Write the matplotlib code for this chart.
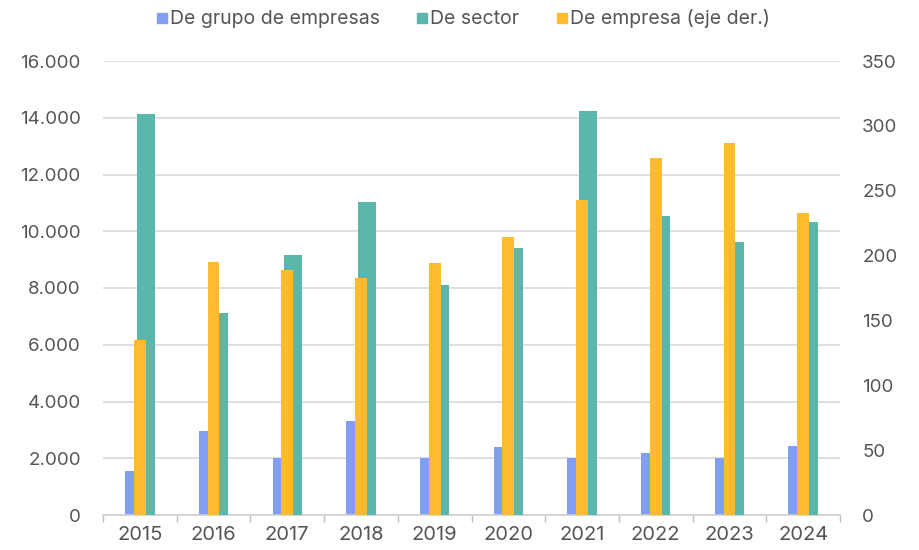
import matplotlib
matplotlib.use("Agg")
import matplotlib.pyplot as plt
import numpy as np
from matplotlib.ticker import FuncFormatter, FixedLocator
from matplotlib.lines import Line2D

years = ["2015", "2016", "2017", "2018", "2019", "2020", "2021", "2022", "2023", "2024"]
grupo = [1540, 2960, 2010, 3330, 2020, 2410, 2020, 2200, 2020, 2430]
sector = [14130, 7110, 9160, 11020, 8110, 9400, 14240, 10540, 9630, 10340]
empresa = [135, 195, 189, 183, 194, 214.5, 243, 275, 287, 233]

series_names = ["De grupo de empresas", "De sector", "De empresa (eje der.)"]
c_blue = "#819ef3"
c_teal = "#5bb6ab"
c_yellow = "#fdbb30"
txt = "#555555"

plt.rcParams['font.family'] = ['Inter', 'DejaVu Sans']

fig = plt.figure(figsize=(9.19, 5.5), dpi=100)
ax = fig.add_axes([103/919, 1-515/550, (840-103)/919, (515-61)/550])
ax2 = ax.twinx()

x = np.arange(len(years))
w = 0.24
ax.bar(x - 0.08, grupo, width=w, color=c_blue, zorder=2)
ax.bar(x + 0.08, sector, width=w, color=c_teal, zorder=3)
ax2.bar(x, empresa, width=0.16, color=c_yellow, zorder=4)

ax.set_xlim(-0.5, len(years) - 0.5)
ax.set_ylim(0, 16000)
ax2.set_ylim(0, 350)
ax.set_yticks(np.arange(0, 16001, 2000))
ax2.set_yticks(np.arange(0, 351, 50))
ax.yaxis.set_major_formatter(FuncFormatter(lambda v, p: f"{int(v):,}".replace(",", ".")))

ax.set_xticks(x)
ax.set_xticklabels(years)
ax.xaxis.set_minor_locator(FixedLocator(np.arange(-0.5, len(years), 1.0)))
ax.tick_params(axis='x', which='major', length=0, pad=8, labelsize=14.5, labelcolor=txt)
ax.tick_params(axis='x', which='minor', length=5, width=1, color="#bfbfbf")
ax.tick_params(axis='y', length=0, pad=16, labelsize=13.5, labelcolor=txt)
ax2.tick_params(axis='y', length=0, pad=16, labelsize=13.5, labelcolor=txt)

ax.grid(axis='y', color="#d9d9d9", linewidth=1.2, zorder=0)
ax.set_axisbelow(True)
for s in ["top", "left", "right"]:
    ax.spines[s].set_visible(False)
    ax2.spines[s].set_visible(False)
ax2.spines["bottom"].set_visible(False)
ax.spines["bottom"].set_color("#d0d0d0")
ax.spines["bottom"].set_linewidth(1.2)

handles = [Line2D([], [], marker='s', linestyle='none', markersize=7, color=c)
           for c in (c_blue, c_teal, c_yellow)]
fig.legend(handles, series_names, loc='center', bbox_to_anchor=(0.5005, 1-19/550),
           ncol=3, frameon=False, fontsize=14, handletextpad=-0.2, handlelength=1.2,
           columnspacing=1.6, labelcolor=txt)

fig.savefig("out.png", dpi=100)
